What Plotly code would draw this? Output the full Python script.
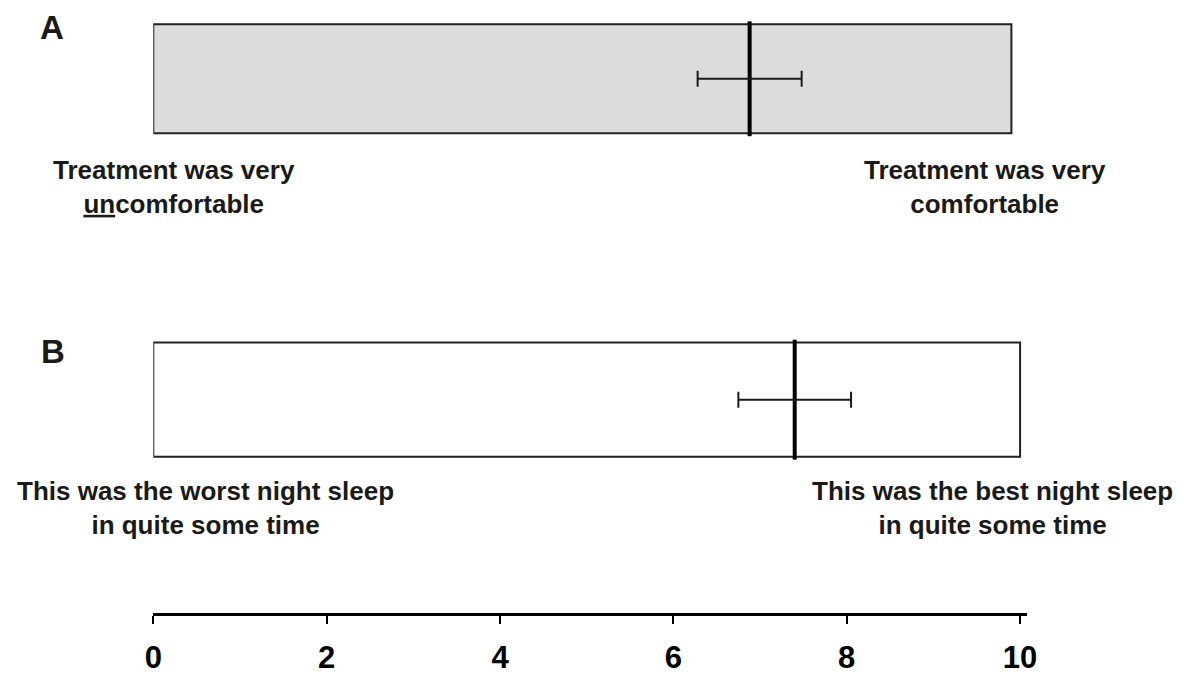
import plotly.graph_objects as go

# Visual analogue scale results (0-10), one row per question
panels = ["A", "B"]
row_pos = [1, 0]
means = [6.88, 7.40]
sems = [0.60, 0.65]
scale_min = [0, 0]
scale_max = [9.9, 10]
box_fill = ["#dcdcdc", "#ffffff"]
left_anchor = [
    "Treatment was very<br><u>un</u>comfortable",
    "This was the worst night sleep<br>in quite some time",
]
right_anchor = [
    "Treatment was very<br>comfortable",
    "This was the best night sleep<br>in quite some time",
]
tick_vals = [0, 2, 4, 6, 8, 10]
tick_text = ["0", "2", "4", "6", "8", "10"]

W, H = 1184, 675
FONT = "Liberation Sans, Arial, sans-serif"
INK = "#1a1a1a"


def px_x(p):
    return p / W


def px_y(p):
    return 1 - p / H


box_half = [0.170, 0.178]
line_over = 0.009

fig = go.Figure()

for i, name in enumerate(panels):
    y = row_pos[i]
    fig.add_shape(
        type="rect", xref="x", yref="y",
        x0=scale_min[i], x1=scale_max[i],
        y0=y - box_half[i], y1=y + box_half[i],
        fillcolor=box_fill[i], line=dict(color="#222222", width=2),
        layer="below",
    )
    # mean marker: thick vertical line across the scale box
    fig.add_trace(go.Scatter(
        x=[means[i], means[i]],
        y=[y - box_half[i] - line_over, y + box_half[i] + line_over],
        mode="lines", line=dict(color="#000000", width=4),
        showlegend=False, hoverinfo="skip",
    ))
    # standard error around the mean
    fig.add_trace(go.Scatter(
        x=[means[i]], y=[y], mode="markers",
        marker=dict(size=1, color="rgba(0,0,0,0)"),
        error_x=dict(type="data", array=[sems[i]], symmetric=True,
                     color=INK, thickness=2, width=8),
        showlegend=False, hoverinfo="skip",
    ))

label_pos = [(52, 28), (52.5, 351)]
left_pos = [(174, 187), (205, 508)]
right_pos = [(985, 187), (992, 508)]

annotations = []
for i, name in enumerate(panels):
    annotations.append(dict(
        text=f"<b>{name}</b>", x=px_x(label_pos[i][0]), y=px_y(label_pos[i][1]),
        xref="paper", yref="paper", xanchor="center", yanchor="middle",
        showarrow=False, font=dict(family=FONT, size=33, color=INK),
    ))
    annotations.append(dict(
        text=f"<b>{left_anchor[i]}</b>", x=px_x(left_pos[i][0]), y=px_y(left_pos[i][1]),
        xref="paper", yref="paper", xanchor="center", yanchor="middle",
        align="center", showarrow=False,
        font=dict(family=FONT, size=26, color=INK),
    ))
    annotations.append(dict(
        text=f"<b>{right_anchor[i]}</b>", x=px_x(right_pos[i][0]), y=px_y(right_pos[i][1]),
        xref="paper", yref="paper", xanchor="center", yanchor="middle",
        align="center", showarrow=False,
        font=dict(family=FONT, size=26, color=INK),
    ))

fig.update_layout(
    width=W, height=H,
    margin=dict(l=0, r=0, t=0, b=0, autoexpand=False),
    paper_bgcolor="white", plot_bgcolor="white",
    showlegend=False,
    annotations=annotations,
    xaxis=dict(
        domain=[px_x(153.3), px_x(1027)],
        range=[0, 10.08],
        automargin=False,
        showgrid=False, zeroline=False,
        showline=True, linecolor="#000000", linewidth=3,
        ticks="outside", ticklen=8, tickwidth=2, tickcolor="#000000",
        tickvals=tick_vals, ticktext=tick_text,
        tickfont=dict(family=FONT, size=31, color="#000000", weight="bold"),
        ticklabelstandoff=7,
        fixedrange=True,
    ),
    yaxis=dict(
        domain=[px_y(612.7), 1],
        range=[-0.6638, 1.2455],
        automargin=False,
        visible=False, fixedrange=True,
    ),
)

fig.write_html("out.html")
